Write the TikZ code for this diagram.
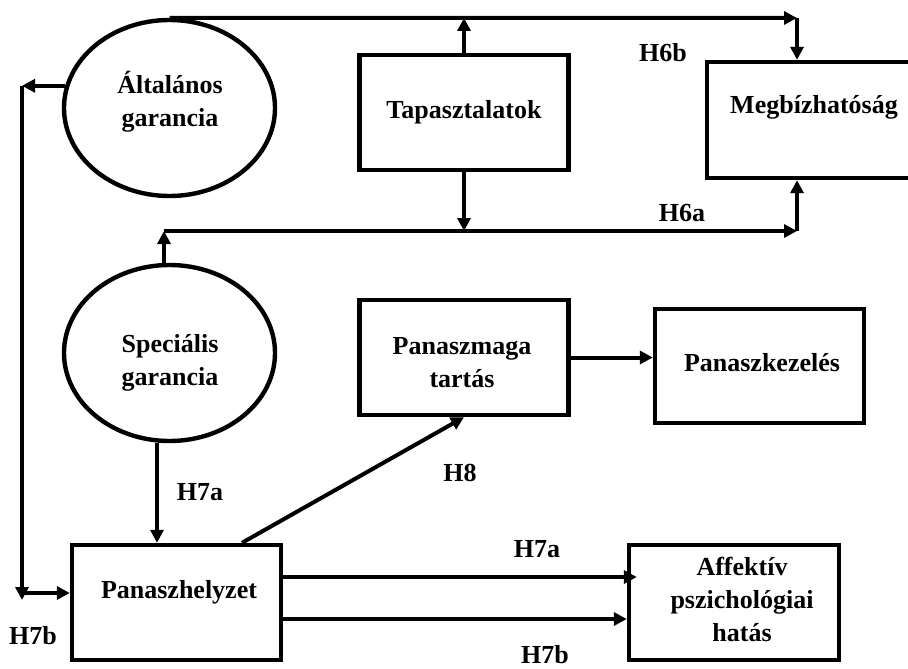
\documentclass[tikz,border=0pt]{standalone}
\usepackage{fontspec}
\setmainfont{Liberation Serif}
\usetikzlibrary{arrows.meta,shapes.geometric}
\begin{document}
\begin{tikzpicture}[x=0.5pt,y=-0.5pt,
  shapeline/.style={draw=black,line width=2.2pt,inner sep=0pt},
  ell/.style={shapeline,ellipse,minimum width=105.5pt,minimum height=88pt},
  boxnode/.style={shapeline,rectangle,minimum width=104.5pt,minimum height=57.5pt},
  txt/.style={font=\bfseries\fontsize{13}{16.5}\selectfont,align=center,inner sep=0pt},
  arr/.style={line width=2pt,-{Triangle[length=6.5pt,width=6.5pt]}}]
\useasboundingbox (0,0) rectangle (908,668);

% shapes
\node[ell] (ag) at (169.5,108) {};
\node[ell] (sg) at (169.5,353) {};
\node[boxnode] (tap) at (464,112.5) {};
\node[boxnode,minimum width=111.5pt,minimum height=58pt] (meg) at (818.5,120) {};
\node[boxnode] (pmt) at (464,357.5) {};
\node[boxnode,minimum height=57pt] (pk) at (759.5,366) {};
\node[boxnode] (ph) at (176.5,602.5) {};
\node[boxnode,minimum width=105pt] (aff) at (734,602.5) {};

% texts
\node[txt] (ag-t) at (170,102) {Általános\\garancia};
\node[txt] (sg-t) at (170,363) {Speciális\\garancia};
\node[txt] (tap-t) at (464,112) {Tapasztalatok};
\node[txt] (meg-t) at (814,107) {Megbízhatóság};
\node[txt] (pmt-t) at (462,363) {Panaszmaga\\tartás};
\node[txt] (pk-t) at (762,363) {Panaszkezelés};
\node[txt] (ph-t) at (179,592) {Panaszhelyzet};
\node[txt] (aff-t) at (742,599) {Affektív\\pszichológiai\\hatás};

% hypothesis labels
\node[txt] (h6b) at (663,53) {H6b};
\node[txt] (h6a) at (682,213) {H6a};
\node[txt] (h7a1) at (200,492) {H7a};
\node[txt] (h8) at (460,473) {H8};
\node[txt] (h7a2) at (537,549) {H7a};
\node[txt] (h7b2) at (545,655) {H7b};
\node[txt] (h7b1) at (33,636) {H7b};

% helper coordinates for routed connectors
\coordinate (c1) at (797,18);
\coordinate (c2) at (797,231);
\coordinate (lx) at (22,0);
\coordinate (vx) at (157,0);
\coordinate (hx) at (242,0);
\coordinate (sx) at (164,0);
\coordinate (ya) at (0,577);
\coordinate (yb) at (0,619);
\coordinate (c3) at (sx |- c2);
\coordinate (c4) at (lx |- ag.168);
\coordinate (c5) at (22,600);
\coordinate (c6) at (22,593);

% H6b route
\draw[arr] (ag.north) -- (c1);
\draw[arr] (c1) -- (c1 |- meg.north);
\draw[arr] (tap.north) -- (tap.north |- c1);

% H6a route
\draw[arr] (tap.south) -- (tap.south |- c2);
\draw[arr] (sx |- sg.north) -- (c3);
\draw[arr] (c3) -- (c2);
\draw[arr] (c2) -- (c2 |- meg.south);

% H7b route on the left
\draw[arr] (ag.168) -- (c4);
\draw[arr] (c4) -- (c5);
\draw[arr] (c6) -- (c6 -| ph.west);

% H7a, H8 and onwards
\draw[arr] (vx |- sg.south) -- (vx |- ph.north);
\draw[arr] (hx |- ph.north) -- (pmt.south);
\draw[arr] (pmt.east) -- (pmt.east -| pk.west);
\draw[arr] (ph.east |- ya) -- ([xshift=5pt]aff.west |- ya);
\draw[arr] (ph.east |- yb) -- (aff.west |- yb);
\end{tikzpicture}
\end{document}
